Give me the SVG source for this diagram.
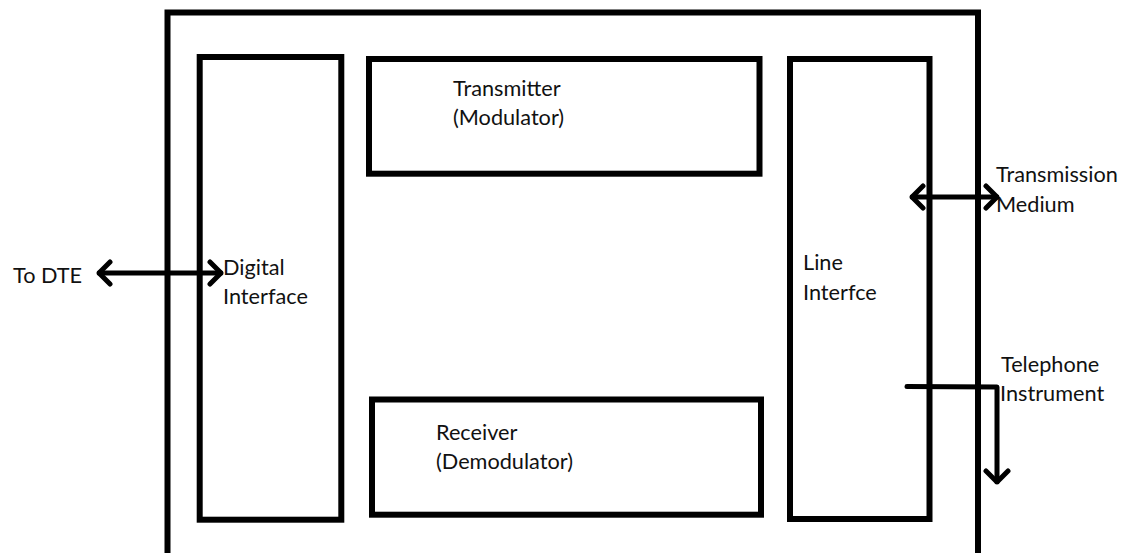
<svg xmlns="http://www.w3.org/2000/svg" width="1125" height="553" viewBox="0 0 1125 553">
  <style>
    .box { fill: none; stroke: #000; stroke-width: 6; }
    .conn { fill: none; stroke: #000; stroke-width: 5; stroke-linecap: round; stroke-linejoin: round; }
    .lbl { font-family: Lato, "Liberation Sans", sans-serif; font-size: 21.7px; fill: #111; }
  </style>
  <defs>
    <marker id="chev" viewBox="-14 -14 16 28" markerWidth="16" markerHeight="28" refX="0" refY="0" orient="auto-start-reverse" markerUnits="userSpaceOnUse">
      <path d="M -11 -11 L 0 0 L -11 11" fill="none" stroke="#000" stroke-width="5" stroke-linecap="round" stroke-linejoin="round"/>
    </marker>
  </defs>
  <rect width="1125" height="553" fill="#fff"/>
  <g id="modem">
    <rect class="box" x="167.5" y="12.5" width="810.5" height="560"/>
  </g>
  <g id="digital-interface">
    <rect class="box" x="199.7" y="57" width="141.6" height="462.7"/>
    <text class="lbl" x="223" y="275">Digital</text>
    <text class="lbl" x="223" y="304">Interface</text>
  </g>
  <g id="transmitter">
    <rect class="box" x="369" y="59" width="390.5" height="114.7"/>
    <text class="lbl" x="453" y="96">Transmitter</text>
    <text class="lbl" x="453" y="125">(Modulator)</text>
  </g>
  <g id="receiver">
    <rect class="box" x="372" y="399.5" width="389" height="115.2"/>
    <text class="lbl" x="436" y="440">Receiver</text>
    <text class="lbl" x="436" y="469">(Demodulator)</text>
  </g>
  <g id="line-interface">
    <rect class="box" x="790" y="59" width="139.5" height="460"/>
    <text class="lbl" x="803" y="270">Line</text>
    <text class="lbl" x="803" y="300">Interfce</text>
  </g>
  <g id="to-dte">
    <text class="lbl" x="13" y="283">To DTE</text>
  </g>
  <g id="transmission-medium">
    <text class="lbl" x="996" y="182">Transmission</text>
    <text class="lbl" x="996" y="212">Medium</text>
  </g>
  <g id="telephone-instrument">
    <text class="lbl" x="1001" y="372">Telephone</text>
    <text class="lbl" x="1000" y="401">Instrument</text>
  </g>
  <g id="connectors">
    <line class="conn" x1="99" y1="273" x2="221" y2="273" marker-start="url(#chev)" marker-end="url(#chev)"/>
    <line class="conn" x1="912" y1="197" x2="997" y2="197" marker-start="url(#chev)" marker-end="url(#chev)"/>
    <polyline class="conn" points="907,386.5 997,387 997,482" marker-end="url(#chev)"/>
  </g>
</svg>
